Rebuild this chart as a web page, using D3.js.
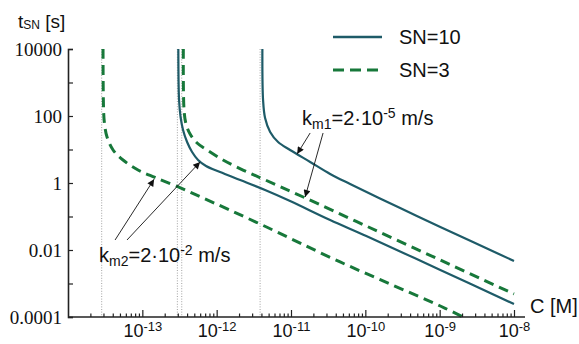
<!DOCTYPE html>
<html>
<head>
<meta charset="utf-8">
<script src="https://cdn.jsdelivr.net/npm/d3@7"></script>
<style>
  body { margin: 0; background: #fff; }
  text { font-family: "Liberation Sans", Arial, sans-serif; fill: #111; }
</style>
</head>
<body>
<svg id="chart"></svg>
<script>
// values: [C (M), t_SN (s)]
var sn10Km1 = [
  [4.12e-12, 10000], [4.21e-12, 301], [4.48e-12, 87], [5.24e-12, 33.3],
  [6.70e-12, 16.7], [9.72e-12, 9.66], [1.81e-11, 4.24], [3.36e-11, 1.86],
  [6.24e-11, 0.933], [2.94e-10, 0.179], [1.02e-9, 0.0486], [1.0e-8, 0.0047]
];
var sn3Km1 = [
  [3.56e-13, 10000], [3.64e-13, 151], [3.87e-13, 57.7], [4.39e-13, 29.0],
  [5.45e-13, 15.6], [7.43e-13, 9.66], [1.22e-12, 4.86], [2.26e-12, 2.44],
  [4.21e-12, 1.32], [1.46e-11, 0.382], [1.03e-10, 0.052], [1.02e-9, 0.00502],
  [1.0e-8, 0.000486]
];
var sn10Km2 = [
  [3.05e-13, 10000], [3.12e-13, 301], [3.27e-13, 93.3], [3.53e-13, 38.2],
  [4.0e-13, 16.7], [4.67e-13, 8.42], [5.62e-13, 4.86], [7.19e-13, 3.21],
  [1.11e-12, 2.13], [2.07e-12, 1.23], [4.48e-12, 0.618], [9.72e-12, 0.290],
  [3.36e-11, 0.0787], [1.03e-10, 0.0262], [1.02e-9, 0.00253], [1.0e-8, 0.000244]
];
var sn3Km2 = [
  [2.96e-14, 10000], [3.01e-14, 151], [3.10e-14, 57.7], [3.35e-14, 23.6],
  [4.04e-14, 9.66], [5.50e-14, 4.86], [8.75e-14, 2.44], [1.48e-13, 1.46],
  [2.93e-13, 0.787], [6.56e-13, 0.356], [3.84e-12, 0.0597], [4.58e-11, 0.00439],
  [1.02e-9, 0.000213], [2.07e-9, 0.0001]
];
// critical concentrations (dotted verticals)
var asymptotes = [2.84e-14, 2.96e-13, 3.39e-13, 3.84e-12];

var xTicks = [1e-13, 1e-12, 1e-11, 1e-10, 1e-9, 1e-8];
var xTickExps = ['-13', '-12', '-11', '-10', '-9', '-8'];
var yTicks = [1e-4, 1e-3, 1e-2, 1e-1, 1, 10, 100, 1000, 10000];
var yTickLabels = ['0.0001', '', '0.01', '', '1', '', '100', '', '10000'];
var legendNames = ['SN=10', 'SN=3'];

// annotation arrows: [start, tip] in data units
var km1Arrows = [
  [[1.81e-11, 31.1], [1.21e-11, 7.35]],
  [[2.70e-11, 31.1], [1.55e-11, 0.382]]
];
var km2Arrows = [
  [[4.30e-14, 0.0199], [1.44e-13, 1.3]],
  [[6.22e-14, 0.0199], [5.98e-13, 4.24]]
];

var solidColor = '#1e5b68';
var dashColor = '#17783a';

var width = 579, height = 344;

var svg = d3.select('#chart')
  .attr('width', width)
  .attr('height', height);

var x = d3.scaleLog().domain([1e-14, 1e-8]).range([68, 514]);
var y = d3.scaleLog().domain([1e-4, 1e4]).range([317, 49]);

// dotted asymptotes
svg.selectAll('.asym')
  .data(asymptotes)
  .enter()
  .append('line')
  .attr('class', 'asym')
  .attr('x1', function (d) { return x(d); })
  .attr('x2', function (d) { return x(d); })
  .attr('y1', y(1e4))
  .attr('y2', y(1e-4))
  .attr('stroke', '#8a8a8a')
  .attr('stroke-width', 0.8)
  .attr('stroke-dasharray', '1,1.6');

// curves
var line = d3.line()
  .x(function (d) { return x(d[0]); })
  .y(function (d) { return y(d[1]); })
  .curve(d3.curveCatmullRom.alpha(0.5));

var series = [
  { data: sn10Km1, color: solidColor, dash: null, w: 2.2 },
  { data: sn3Km1, color: dashColor, dash: '10,6', w: 3 },
  { data: sn10Km2, color: solidColor, dash: null, w: 2.2 },
  { data: sn3Km2, color: dashColor, dash: '10,6', w: 3 }
];

svg.selectAll('.curve')
  .data(series)
  .enter()
  .append('path')
  .attr('class', 'curve')
  .attr('d', function (d) { return line(d.data); })
  .attr('fill', 'none')
  .attr('stroke', function (d) { return d.color; })
  .attr('stroke-width', function (d) { return d.w; })
  .attr('stroke-dasharray', function (d) { return d.dash; });

// x axis
var xAxisG = svg.append('g')
  .attr('transform', 'translate(0,' + y(1e-4) + ')');

var minor = [];
for (var e = -14; e < -8; e++) {
  for (var k = 2; k < 10; k++) minor.push(k * Math.pow(10, e));
}
xAxisG.append('g')
  .call(d3.axisBottom(x).tickValues(minor).tickSize(-3.5).tickFormat(''))
  .call(function (g) { g.select('.domain').remove(); });

var xMajor = xAxisG.append('g')
  .call(d3.axisBottom(x).tickValues(xTicks).tickSize(-7).tickPadding(7).tickFormat(''))
  .call(function (g) { g.select('.domain').remove(); });

xMajor.selectAll('.tick text')
  .style('font-size', '18px')
  .attr('fill', '#111')
  .each(function (d, i) {
    var t = d3.select(this);
    t.append('tspan').style('font-size', '18px').text('10');
    t.append('tspan').attr('dy', -6).style('font-size', '13px').text(xTickExps[i]);
  });

xAxisG.selectAll('.tick line').attr('stroke', '#222').attr('stroke-width', 1.2);

xAxisG.append('line')
  .attr('x1', x(1e-14))
  .attr('x2', x(1e-8) + 11)
  .attr('stroke', '#222')
  .attr('stroke-width', 1.6);

// y axis
var yAxisG = svg.append('g')
  .attr('transform', 'translate(' + x(1e-14) + ',0)')
  .call(d3.axisLeft(y).tickValues(yTicks).tickSize(-5).tickPadding(6)
    .tickFormat(function (d, i) { return yTickLabels[i]; }));

yAxisG.select('.domain').attr('stroke', '#222').attr('stroke-width', 1.6);
yAxisG.selectAll('.tick line').attr('stroke', '#222').attr('stroke-width', 1.2);
yAxisG.selectAll('.tick text')
  .style('font-family', '"Liberation Serif", "Times New Roman", serif')
  .style('font-size', '19px')
  .attr('fill', '#111');

// axis titles
var yTitle = svg.append('text').attr('x', 18).attr('y', 28).style('font-size', '19px');
yTitle.append('tspan').text('t');
yTitle.append('tspan').style('font-size', '12px').attr('dy', 1).text('SN');
yTitle.append('tspan').attr('dy', -1).text(' [s]');

svg.append('text')
  .attr('x', 530)
  .attr('y', 313)
  .style('font-size', '20px')
  .text('C [M]');

// legend
var legend = svg.selectAll('.leg')
  .data(legendNames)
  .enter()
  .append('g')
  .attr('class', 'leg')
  .attr('transform', function (d, i) { return 'translate(333,' + (37 + i * 33) + ')'; });

legend.append('line')
  .attr('x1', 0)
  .attr('x2', function (d, i) { return i === 0 ? 49 : 45; })
  .attr('stroke', function (d, i) { return i === 0 ? solidColor : dashColor; })
  .attr('stroke-width', function (d, i) { return i === 0 ? 2.4 : 3; })
  .attr('stroke-dasharray', function (d, i) { return i === 0 ? null : '11,6'; });

legend.append('text')
  .attr('x', 66)
  .attr('y', 7)
  .style('font-size', '20px')
  .text(function (d) { return d; });

// annotations
svg.append('defs').append('marker')
  .attr('id', 'head')
  .attr('viewBox', '0 0 10 10')
  .attr('refX', 10)
  .attr('refY', 5)
  .attr('markerWidth', 9)
  .attr('markerHeight', 7)
  .attr('markerUnits', 'userSpaceOnUse')
  .attr('orient', 'auto')
  .append('path')
  .attr('d', 'M0,0 L10,5 L0,10 z')
  .attr('fill', '#111');

svg.selectAll('.arrow')
  .data(km1Arrows.concat(km2Arrows))
  .enter()
  .append('line')
  .attr('class', 'arrow')
  .attr('x1', function (d) { return x(d[0][0]); })
  .attr('y1', function (d) { return y(d[0][1]); })
  .attr('x2', function (d) { return x(d[1][0]); })
  .attr('y2', function (d) { return y(d[1][1]); })
  .attr('stroke', '#111')
  .attr('stroke-width', 0.9)
  .attr('marker-end', 'url(#head)');

function kmLabel(px, py, sub, exp) {
  var t = svg.append('text').attr('x', px).attr('y', py).style('font-size', '20px');
  t.append('tspan').text('k');
  t.append('tspan').style('font-size', '14px').attr('dy', 4).text(sub);
  t.append('tspan').attr('dy', -4).text('=2\u00b710');
  t.append('tspan').style('font-size', '14px').attr('dy', -7).text(exp);
  t.append('tspan').attr('dy', 7).text(' m/s');
}
kmLabel(302, 125, 'm1', '-5');
kmLabel(99, 262, 'm2', '-2');
</script>
</body>
</html>
